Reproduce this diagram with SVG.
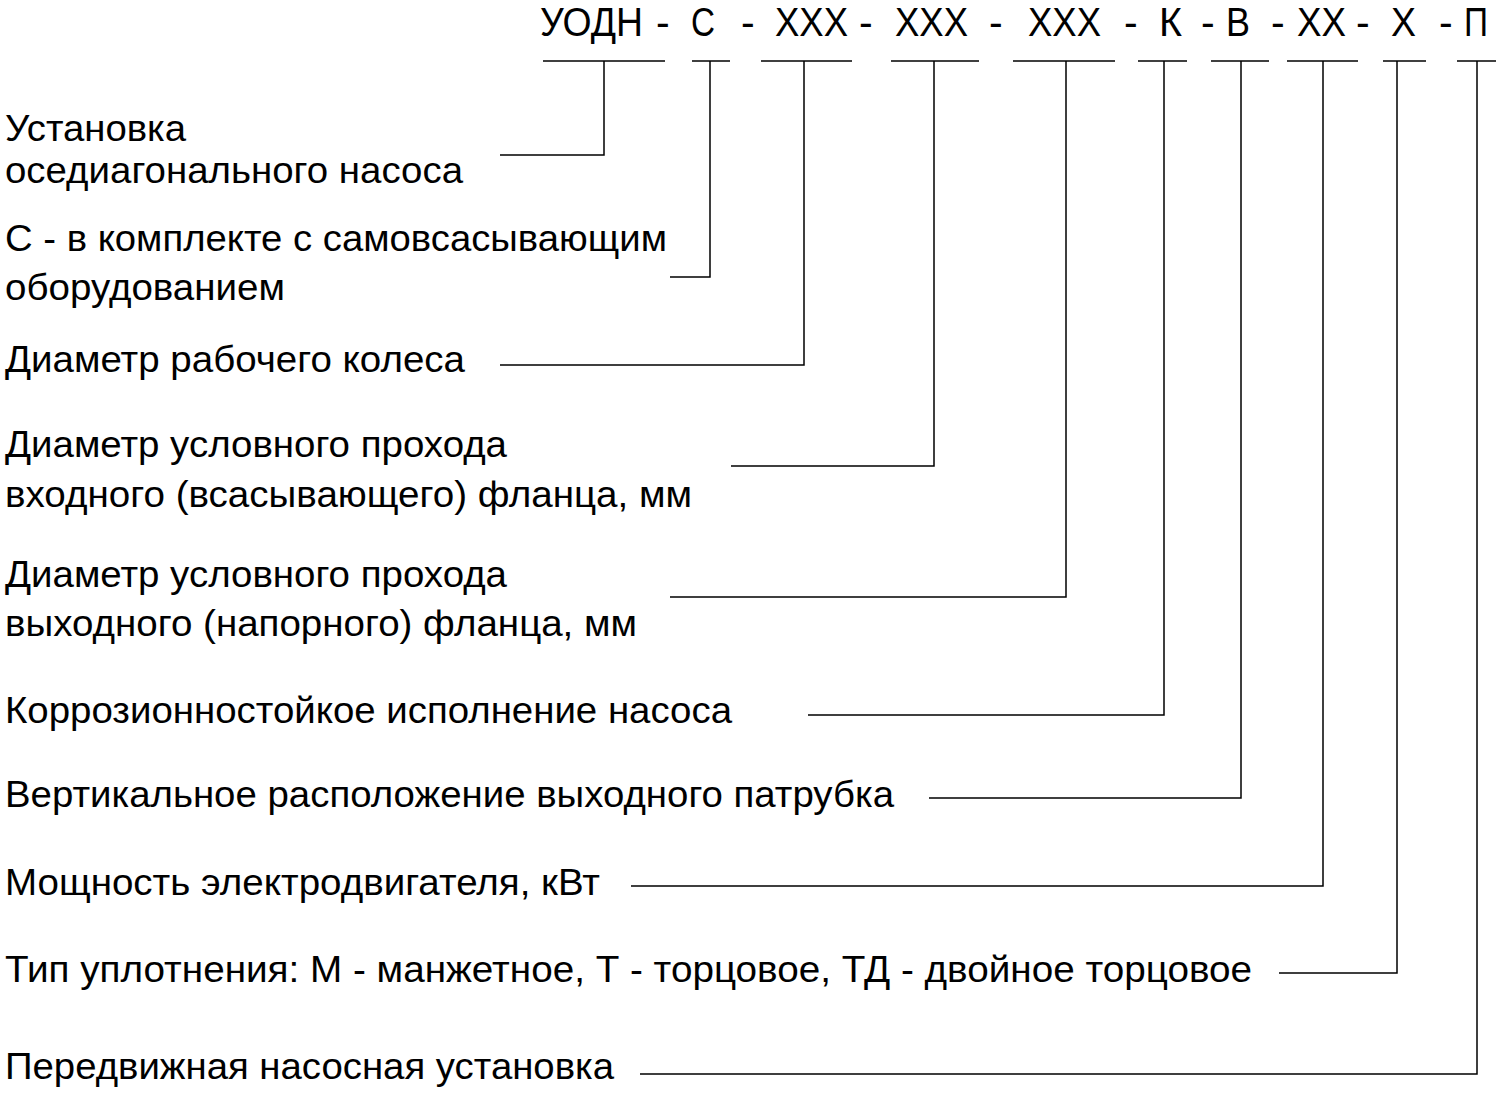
<svg xmlns="http://www.w3.org/2000/svg" width="1500" height="1093" viewBox="0 0 1500 1093">
<style>
.h{font-family:"Liberation Sans",Arial,sans-serif;font-size:41px;fill:#000}
.t{font-family:"Liberation Sans",Arial,sans-serif;font-size:37.5px;fill:#000}
.c{fill:none;stroke:#000;stroke-width:1.5}
</style>
<rect width="1500" height="1093" fill="#fff"/>
<g id="code">
<text class="h" x="540" y="36" textLength="103" lengthAdjust="spacingAndGlyphs">УОДН</text>
<text class="h" x="656" y="36">-</text>
<text class="h" x="691" y="36" textLength="24" lengthAdjust="spacingAndGlyphs">С</text>
<text class="h" x="741" y="36">-</text>
<text class="h" x="775" y="36" textLength="73" lengthAdjust="spacingAndGlyphs">XXX</text>
<text class="h" x="859" y="36">-</text>
<text class="h" x="895" y="36" textLength="73" lengthAdjust="spacingAndGlyphs">XXX</text>
<text class="h" x="989" y="36">-</text>
<text class="h" x="1028" y="36" textLength="73" lengthAdjust="spacingAndGlyphs">XXX</text>
<text class="h" x="1124" y="36">-</text>
<text class="h" x="1159" y="36" textLength="23" lengthAdjust="spacingAndGlyphs">К</text>
<text class="h" x="1201" y="36">-</text>
<text class="h" x="1226" y="36" textLength="24" lengthAdjust="spacingAndGlyphs">В</text>
<text class="h" x="1271" y="36">-</text>
<text class="h" x="1297" y="36" textLength="49" lengthAdjust="spacingAndGlyphs">XX</text>
<text class="h" x="1356" y="36">-</text>
<text class="h" x="1391" y="36" textLength="25" lengthAdjust="spacingAndGlyphs">Х</text>
<text class="h" x="1439" y="36">-</text>
<text class="h" x="1464" y="36" textLength="24" lengthAdjust="spacingAndGlyphs">П</text>
</g>
<g id="n1"><text class="t" x="5" y="141" textLength="181" lengthAdjust="spacingAndGlyphs">Установка</text><text class="t" x="5" y="183" textLength="458" lengthAdjust="spacingAndGlyphs">оседиагонального насоса</text></g>
<g id="n2"><text class="t" x="5" y="251" textLength="662" lengthAdjust="spacingAndGlyphs">С - в комплекте с самовсасывающим</text><text class="t" x="5" y="300" textLength="280" lengthAdjust="spacingAndGlyphs">оборудованием</text></g>
<g id="n3"><text class="t" x="5" y="372" textLength="460" lengthAdjust="spacingAndGlyphs">Диаметр рабочего колеса</text></g>
<g id="n4"><text class="t" x="5" y="457" textLength="502" lengthAdjust="spacingAndGlyphs">Диаметр условного прохода</text><text class="t" x="5" y="507" textLength="687" lengthAdjust="spacingAndGlyphs">входного (всасывающего) фланца, мм</text></g>
<g id="n5"><text class="t" x="5" y="587" textLength="502" lengthAdjust="spacingAndGlyphs">Диаметр условного прохода</text><text class="t" x="5" y="636" textLength="632" lengthAdjust="spacingAndGlyphs">выходного (напорного) фланца, мм</text></g>
<g id="n6"><text class="t" x="5" y="723" textLength="727" lengthAdjust="spacingAndGlyphs">Коррозионностойкое исполнение насоса</text></g>
<g id="n7"><text class="t" x="5" y="807" textLength="889" lengthAdjust="spacingAndGlyphs">Вертикальное расположение выходного патрубка</text></g>
<g id="n8"><text class="t" x="5" y="895" textLength="595" lengthAdjust="spacingAndGlyphs">Мощность электродвигателя, кВт</text></g>
<g id="n9"><text class="t" x="5" y="982" textLength="1247" lengthAdjust="spacingAndGlyphs">Тип уплотнения: М - манжетное, Т - торцовое, ТД - двойное торцовое</text></g>
<g id="n10"><text class="t" x="5" y="1079" textLength="609" lengthAdjust="spacingAndGlyphs">Передвижная насосная установка</text></g>
<g id="connectors" class="c">
<path d="M543 61H665"/><path d="M692 61H730"/><path d="M761 61H852"/><path d="M891 61H979"/><path d="M1013 61H1115"/>
<path d="M1138 61H1187"/><path d="M1211 61H1269"/><path d="M1287 61H1358"/><path d="M1383 61H1426"/><path d="M1457 61H1496"/>
<path d="M604 61V155H500"/>
<path d="M710 61V277H670"/>
<path d="M804 61V365H500"/>
<path d="M934 61V466H731"/>
<path d="M1066 61V597H670"/>
<path d="M1164 61V715H808"/>
<path d="M1241 61V798H929"/>
<path d="M1323 61V886H631"/>
<path d="M1397 61V973H1279"/>
<path d="M1477 61V1074H640"/>
</g>
</svg>
